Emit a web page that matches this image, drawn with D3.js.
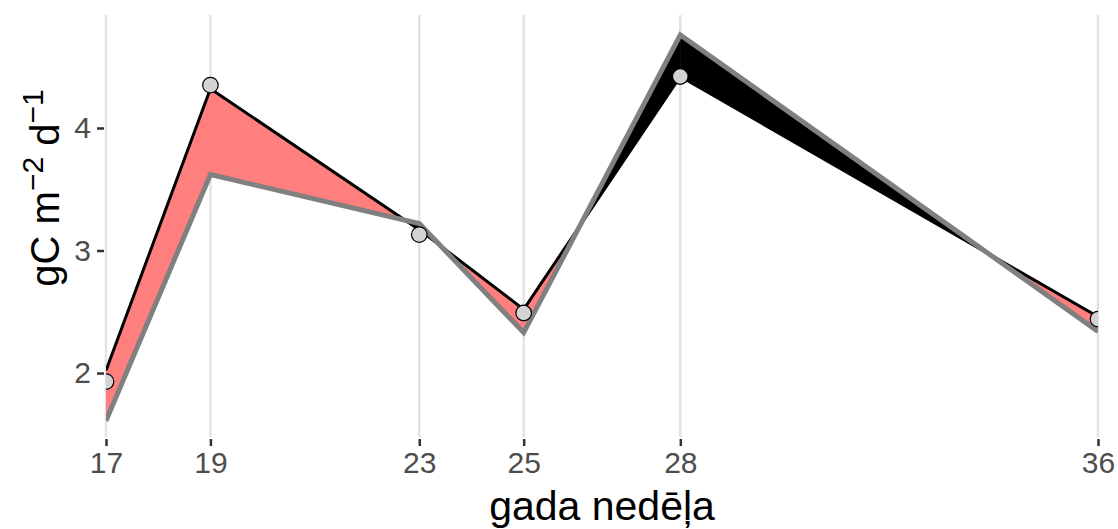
<!DOCTYPE html>
<html>
<head>
<meta charset="utf-8">
<script src="https://cdn.jsdelivr.net/npm/d3@7"></script>
<style>
  html, body { margin: 0; padding: 0; background: #fff; }
  svg { display: block; font-family: "Liberation Sans", Arial, sans-serif; }
</style>
</head>
<body>
<svg id="chart" width="1118" height="529"></svg>
<script>
// Weeks of the year and daily carbon flux (gC m^-2 d^-1)
const weeks      = [17, 19, 23, 25, 28, 36];
const blackLine  = [2.02, 4.32, 3.17, 2.52, 4.42, 2.46];
const greyLine   = [1.61, 3.62, 3.22, 2.33, 4.76, 2.34];
const observed   = [1.93, 4.35, 3.13, 2.49, 4.42, 2.44];
const yTicks     = [2, 3, 4];
const yDomain    = [1.478, 4.922];

const svg = d3.select("#chart");
const panel = { left: 106, right: 1098, top: 15, bottom: 437 };

const x = d3.scaleLinear().domain(d3.extent(weeks)).range([panel.left, panel.right]);
const y = d3.scaleLinear().domain(yDomain).range([panel.bottom, panel.top]);

svg.append("defs").append("clipPath").attr("id", "panel-clip")
  .append("rect")
  .attr("x", panel.left).attr("y", panel.top)
  .attr("width", panel.right - panel.left).attr("height", panel.bottom - panel.top);

// vertical grid lines at each sampled week
svg.append("g").selectAll("line").data(weeks).join("line")
  .attr("x1", d => x(d)).attr("x2", d => x(d))
  .attr("y1", panel.top).attr("y2", panel.bottom)
  .attr("stroke", "#e3e3e3").attr("stroke-width", 2.5);

const plot = svg.append("g").attr("clip-path", "url(#panel-clip)");

// ribbon between the two lines, split where they cross
const pieces = [];
for (let i = 0; i < weeks.length - 1; i++) {
  const a = { w: weeks[i], b: blackLine[i], g: greyLine[i] };
  const c = { w: weeks[i + 1], b: blackLine[i + 1], g: greyLine[i + 1] };
  const d0 = a.b - a.g, d1 = c.b - c.g;
  if (d0 * d1 < 0) {
    const t = d0 / (d0 - d1);
    const m = { w: a.w + t * (c.w - a.w), b: a.b + t * (c.b - a.b) };
    m.g = m.b;
    pieces.push({ pts: [a, m], up: d0 > 0 });
    pieces.push({ pts: [m, c], up: d1 > 0 });
  } else {
    pieces.push({ pts: [a, c], up: (d0 + d1) >= 0 });
  }
}
const area = d3.area()
  .x(d => x(d.w))
  .y0(d => y(d.g))
  .y1(d => y(d.b));
plot.append("g").selectAll("path").data(pieces).join("path")
  .attr("d", d => area(d.pts))
  .attr("fill", d => d.up ? "#ff7f7f" : "#000000")
  .attr("stroke", d => d.up ? "#ff7f7f" : "#000000")
  .attr("stroke-width", 0.6);

const line = d3.line().x(d => x(d[0])).y(d => y(d[1]));

plot.append("path")
  .attr("d", line(weeks.map((w, i) => [w, blackLine[i]])))
  .attr("fill", "none").attr("stroke", "#000").attr("stroke-width", 3)
  .attr("stroke-linejoin", "round");

plot.append("path")
  .attr("d", line(weeks.map((w, i) => [w, greyLine[i]])))
  .attr("fill", "none").attr("stroke", "#808080").attr("stroke-width", 5)
  .attr("stroke-linejoin", "miter");

plot.append("g").selectAll("circle").data(weeks).join("circle")
  .attr("cx", d => x(d))
  .attr("cy", (d, i) => y(observed[i]))
  .attr("r", 7.8)
  .attr("fill", "#d3d3d3").attr("stroke", "#000").attr("stroke-width", 1.2);

// axes
const xAxis = d3.axisBottom(x).tickValues(weeks).tickFormat(d3.format("d"))
  .tickSize(7).tickPadding(6);
const gx = svg.append("g").attr("transform", `translate(0,${panel.bottom + 2})`).call(xAxis);
gx.select(".domain").remove();
gx.selectAll(".tick line").attr("stroke", "#333").attr("stroke-width", 2.5);
gx.selectAll(".tick text").attr("fill", "#4d4d4d").attr("font-size", 30)
  .attr("font-family", "Liberation Sans, Arial, sans-serif");

const yAxis = d3.axisLeft(y).tickValues(yTicks).tickFormat(d3.format("d"))
  .tickSize(7).tickPadding(6);
const gy = svg.append("g").attr("transform", `translate(${panel.left - 2},0)`).call(yAxis);
gy.select(".domain").remove();
gy.selectAll(".tick line").attr("stroke", "#333").attr("stroke-width", 2.5);
gy.selectAll(".tick text").attr("fill", "#4d4d4d").attr("font-size", 30)
  .attr("font-family", "Liberation Sans, Arial, sans-serif");

// axis titles
svg.append("text")
  .attr("x", (panel.left + panel.right) / 2).attr("y", 520)
  .attr("text-anchor", "middle").attr("font-size", 41).attr("fill", "#000")
  .text("gada nedēļa");

const yt = svg.append("text")
  .attr("transform", `translate(59,188) rotate(-90)`)
  .attr("text-anchor", "middle").attr("font-size", 40).attr("fill", "#000");
yt.append("tspan").text("gC m");
yt.append("tspan").attr("font-size", 30).attr("dy", -16).text("−2");
yt.append("tspan").attr("dy", 16).text(" d");
yt.append("tspan").attr("font-size", 30).attr("dy", -16).text("−1");
</script>
</body>
</html>
